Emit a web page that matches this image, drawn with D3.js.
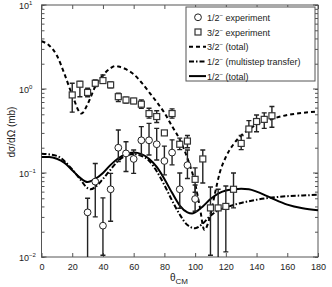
<!DOCTYPE html>
<html>
<head>
<meta charset="utf-8">
<script src="https://cdn.jsdelivr.net/npm/d3@7"></script>
<style>
  body { margin: 0; background: #fff; }
  svg { display: block; font-family: "Liberation Sans", Arial, sans-serif; }
</style>
</head>
<body>
<svg id="chart" width="332" height="287"></svg>
<script>
// 1/2- experiment (circles)
const halfAngles = [30, 35, 40, 45, 50, 55, 60, 65, 70, 75, 80, 85, 90, 95, 100];
const halfValues = [0.034, 0.079, 0.0236, 0.064, 0.20, 0.171, 0.147, 0.245, 0.245, 0.22, 0.139, 0.175, 0.064, 0.124, 0.049];
const halfLow    = [0.005, 0.030, 0.0105, 0.0266, 0.137, 0.104, 0.099, 0.164, 0.164, 0.143, 0.095, 0.125, 0.038, 0.086, 0.035];
const halfHigh   = [0.050, 0.130, 0.0505, 0.099, 0.325, 0.236, 0.188, 0.357, 0.39, 0.34, 0.209, 0.248, 0.10, 0.188, 0.072];

// 3/2- experiment (squares)
const threeAngles = [20, 25, 30, 35, 40, 45, 50, 55, 60, 65, 70, 75, 80, 85, 90, 95, 100, 105, 110, 115, 120, 125, 130, 135, 140, 145, 150];
const threeValues = [0.85, 1.14, 0.91, 1.17, 1.26, 1.12, 0.81, 0.74, 0.72, 0.66, 0.51, 0.47, 0.30, 0.51, 0.22, 0.24, 0.084, 0.147, 0.0384, 0.0384, 0.040, 0.064, 0.225, 0.334, 0.41, 0.435, 0.48];
const threeLow   = [0.53, 0.81, 0.81, 1.07, 1.17, 1.03, 0.71, 0.68, 0.67, 0.59, 0.45, 0.40, 0.285, 0.45, 0.19, 0.20, 0.059, 0.076, 0.0105, 0.005, 0.0115, 0.0384, 0.19, 0.26, 0.31, 0.34, 0.35];
const threeHigh  = [1.17, 1.23, 1.02, 1.28, 1.47, 1.21, 0.89, 0.80, 0.77, 0.74, 0.59, 0.55, 0.31, 0.58, 0.26, 0.28, 0.115, 0.188, 0.068, 0.064, 0.07, 0.10, 0.28, 0.42, 0.49, 0.52, 0.62];

// 3/2- (total), dashed
const totalThreeAngles = [0, 5, 10, 15, 20, 26, 30, 35, 40, 45, 48, 50, 55, 60, 65, 70, 75, 80, 85, 90, 95, 100, 103, 106, 110, 113, 116, 120, 125, 130, 135, 140, 150, 160, 170, 180];
const totalThreeValues = [3.7, 3.3, 2.5, 1.5, 0.85, 0.51, 0.66, 1.07, 1.46, 1.77, 1.88, 1.85, 1.72, 1.5, 1.2, 0.92, 0.7, 0.52, 0.36, 0.25, 0.15, 0.075, 0.04, 0.021, 0.032, 0.058, 0.1, 0.155, 0.22, 0.28, 0.33, 0.38, 0.44, 0.49, 0.52, 0.54];

// 1/2- (multistep transfer), dash-dot
const multiAngles = [0, 10, 20, 25, 30, 32, 35, 40, 45, 50, 55, 60, 65, 70, 75, 80, 85, 90, 95, 100, 105, 110, 115, 120, 130, 140, 150, 160, 170, 180];
const multiValues = [0.17, 0.16, 0.11, 0.085, 0.066, 0.064, 0.068, 0.085, 0.11, 0.14, 0.16, 0.168, 0.16, 0.14, 0.105, 0.072, 0.047, 0.032, 0.024, 0.022, 0.025, 0.031, 0.036, 0.039, 0.044, 0.048, 0.051, 0.053, 0.054, 0.055];

// 1/2- (total), solid
const totalHalfAngles = [0, 5, 10, 15, 20, 25, 30, 35, 40, 45, 50, 55, 60, 65, 70, 75, 80, 85, 90, 95, 98, 100, 105, 110, 115, 120, 125, 130, 135, 140, 145, 150, 160, 170, 180];
const totalHalfValues = [0.155, 0.155, 0.148, 0.132, 0.108, 0.088, 0.078, 0.085, 0.10, 0.125, 0.15, 0.168, 0.175, 0.168, 0.148, 0.118, 0.085, 0.058, 0.041, 0.034, 0.033, 0.034, 0.040, 0.049, 0.057, 0.062, 0.064, 0.065, 0.064, 0.060, 0.055, 0.050, 0.042, 0.038, 0.036];

const xTicks = [0, 20, 40, 60, 80, 100, 120, 140, 160, 180];
const yDecades = [-2, -1, 0, 1];

const svg = d3.select('#chart');
const area = { left: 41.5, right: 318, top: 5, bottom: 257 };

const x = d3.scaleLinear().domain([0, 180]).range([area.left, area.right]);
const y = d3.scaleLog().domain([0.01, 10]).range([area.bottom, area.top]);

svg.append('defs').append('clipPath').attr('id', 'clip')
  .append('rect')
  .attr('x', area.left).attr('y', area.top)
  .attr('width', area.right - area.left).attr('height', area.bottom - area.top);

const axisColor = '#555';

// axes, ticks inward
const gx = svg.append('g').attr('transform', `translate(0,${area.bottom})`)
  .call(d3.axisBottom(x).tickValues(xTicks).tickSize(-4).tickPadding(7));
const gxTop = svg.append('g').attr('transform', `translate(0,${area.top})`)
  .call(d3.axisTop(x).tickValues(xTicks).tickSize(-4).tickFormat(''));

const minorTicks = y.ticks().filter(d => d >= 0.01 && d <= 10);
const gy = svg.append('g').attr('transform', `translate(${area.left},0)`)
  .call(d3.axisLeft(y).tickValues(minorTicks).tickSize(-3).tickFormat(''));
const gyR = svg.append('g').attr('transform', `translate(${area.right},0)`)
  .call(d3.axisRight(y).tickValues(minorTicks).tickSize(-3).tickFormat(''));

[gx, gxTop, gy, gyR].forEach(g => {
  g.select('.domain').remove();
  g.selectAll('line').attr('stroke', axisColor);
});
// longer ticks at decades
svg.append('g').selectAll('line')
  .data(yDecades)
  .join('line')
  .attr('x1', area.left).attr('x2', area.left + 5)
  .attr('y1', d => y(Math.pow(10, d))).attr('y2', d => y(Math.pow(10, d)))
  .attr('stroke', axisColor);
svg.append('g').selectAll('line')
  .data(yDecades)
  .join('line')
  .attr('x1', area.right).attr('x2', area.right - 5)
  .attr('y1', d => y(Math.pow(10, d))).attr('y2', d => y(Math.pow(10, d)))
  .attr('stroke', axisColor);

gx.selectAll('text').attr('font-size', 9).attr('fill', '#222').attr('font-family', null);

// y decade labels
const yl = svg.append('g').selectAll('text')
  .data(yDecades)
  .join('text')
  .attr('x', 19)
  .attr('y', d => y(Math.pow(10, d)) + 4)
  .attr('font-size', 9)
  .attr('fill', '#222');
yl.append('tspan').text('10');
yl.append('tspan').attr('font-size', 6).attr('dy', -4).text(d => d < 0 ? '\u2212' + (-d) : d);

// frame
svg.append('rect')
  .attr('x', area.left).attr('y', area.top)
  .attr('width', area.right - area.left).attr('height', area.bottom - area.top)
  .attr('fill', 'none').attr('stroke', axisColor).attr('stroke-width', 1);

// axis titles
const xt = svg.append('text').attr('x', 170).attr('y', 281).attr('font-size', 10).attr('fill', '#222');
xt.append('tspan').text('\u03b8');
xt.append('tspan').attr('font-size', 8).attr('dy', 3).text('CM');

svg.append('text')
  .attr('transform', 'translate(15,132) rotate(-90)')
  .attr('text-anchor', 'middle')
  .attr('font-size', 10).attr('fill', '#222')
  .text('d\u03c3/d\u03a9 (mb)');

const plot = svg.append('g').attr('clip-path', 'url(#clip)');

// curves
const line = d3.line()
  .x(d => x(d[0]))
  .y(d => y(d[1]))
  .curve(d3.curveMonotoneX);

const curves = [
  { angles: totalThreeAngles, values: totalThreeValues, dash: '4,3' },
  { angles: multiAngles, values: multiValues, dash: '5,2,1.5,2' },
  { angles: totalHalfAngles, values: totalHalfValues, dash: null },
];
curves.forEach(c => {
  plot.append('path')
    .datum(d3.zip(c.angles, c.values))
    .attr('d', line)
    .attr('fill', 'none')
    .attr('stroke', '#000')
    .attr('stroke-width', 2)
    .attr('stroke-dasharray', c.dash);
});

// experimental points with error bars
function drawPoints(angles, values, lo, hi, shape) {
  const pts = angles.map((a, i) => ({ a, v: values[i], lo: lo[i], hi: hi[i] }));
  const g = plot.append('g');
  const bars = g.selectAll('g.bar').data(pts).join('g').attr('class', 'bar')
    .attr('stroke', '#222').attr('stroke-width', 1.4);
  bars.append('line')
    .attr('x1', d => x(d.a)).attr('x2', d => x(d.a))
    .attr('y1', d => y(d.hi)).attr('y2', d => y(d.lo));
  bars.append('line')
    .attr('x1', d => x(d.a) - 2.5).attr('x2', d => x(d.a) + 2.5)
    .attr('y1', d => y(d.hi)).attr('y2', d => y(d.hi));
  bars.append('line')
    .attr('x1', d => x(d.a) - 2.5).attr('x2', d => x(d.a) + 2.5)
    .attr('y1', d => y(d.lo)).attr('y2', d => y(d.lo));
  if (shape === 'circle') {
    g.selectAll('circle').data(pts).join('circle')
      .attr('cx', d => x(d.a)).attr('cy', d => y(d.v)).attr('r', 3.4)
      .attr('fill', '#fff').attr('stroke', '#222').attr('stroke-width', 1);
  } else {
    g.selectAll('rect.sq').data(pts).join('rect').attr('class', 'sq')
      .attr('x', d => x(d.a) - 3).attr('y', d => y(d.v) - 3)
      .attr('width', 6).attr('height', 6)
      .attr('fill', '#fff').attr('stroke', '#333').attr('stroke-width', 1.2);
  }
}
drawPoints(threeAngles, threeValues, threeLow, threeHigh, 'square');
drawPoints(halfAngles, halfValues, halfLow, halfHigh, 'circle');

// legend
const legendItems = [
  { label: ' experiment', marker: 'circle' },
  { label: ' experiment', marker: 'square' },
  { label: ' (total)', dash: '4,3', spin: '3/2' },
  { label: ' (multistep transfer)', dash: '5,2,1.5,2' },
  { label: ' (total)', dash: null },
];
const legend = svg.append('g');
legend.append('rect')
  .attr('x', 186).attr('y', 7).attr('width', 129).attr('height', 74)
  .attr('fill', '#fff').attr('stroke', axisColor);
const spins = ['1/2', '3/2', '3/2', '1/2', '1/2'];
const rows = legend.selectAll('g.row').data(legendItems).join('g').attr('class', 'row')
  .attr('transform', (d, i) => `translate(0,${17.3 + i * 14.7})`);
rows.each(function (d) {
  const r = d3.select(this);
  if (d.marker === 'circle') {
    r.append('circle').attr('cx', 198).attr('cy', 0).attr('r', 3.4)
      .attr('fill', '#fff').attr('stroke', '#222');
  } else if (d.marker === 'square') {
    r.append('rect').attr('x', 195).attr('y', -3).attr('width', 6).attr('height', 6)
      .attr('fill', '#fff').attr('stroke', '#333').attr('stroke-width', 1.2);
  } else {
    r.append('line').attr('x1', 189).attr('x2', 206).attr('y1', 0).attr('y2', 0)
      .attr('stroke', '#000').attr('stroke-width', 2).attr('stroke-dasharray', d.dash);
  }
});
const lt = rows.append('text').attr('x', 207).attr('y', 3.5).attr('font-size', 9).attr('fill', '#222');
lt.append('tspan').text((d, i) => spins[i]);
lt.append('tspan').attr('font-size', 6).attr('dy', -4).text('\u2212');
lt.append('tspan').attr('dy', 4).text(d => d.label);
</script>
</body>
</html>
